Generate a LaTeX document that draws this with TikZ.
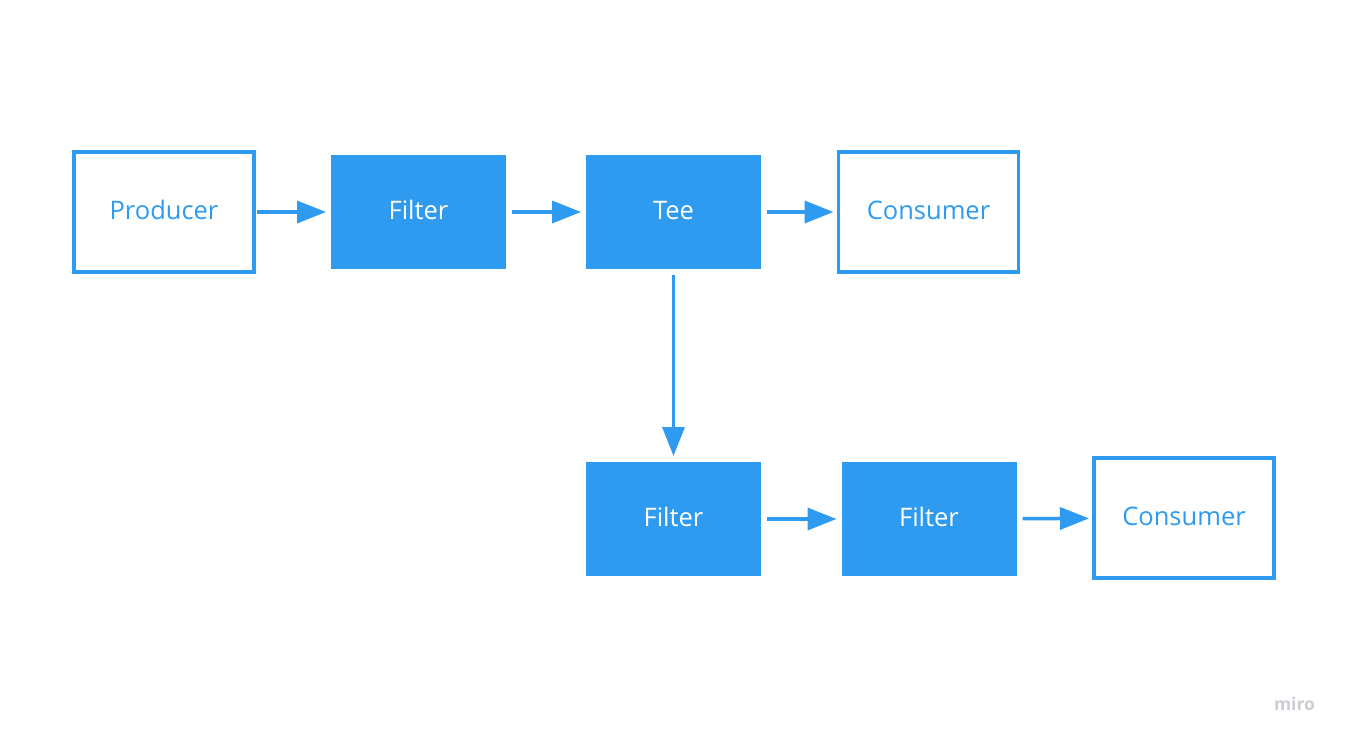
\documentclass[tikz,border=0pt]{standalone}
\usepackage{fontspec}
\setmainfont{Open Sans}
\usetikzlibrary{arrows.meta}
\definecolor{miroblue}{HTML}{2E9BF0}
\definecolor{logogray}{HTML}{CDCED3}
\begin{document}
\begin{tikzpicture}[x=1pt,y=-1pt,
  every node/.style={inner sep=0pt,outer sep=0pt},
  boxtext/.style={font=\fontsize{25.5}{30}\selectfont,text height=18.4pt,text depth=3.2pt},
  endpoint/.style={boxtext,draw=miroblue,line width=3.5pt,fill=white,text=miroblue,
    minimum width=180pt,minimum height=120pt},
  stage/.style={boxtext,fill=miroblue,text=white,minimum width=175pt,minimum height=114pt},
  flow/.style={draw=miroblue,line width=3.5pt,
    -{Triangle[length=29pt,width=22pt]},shorten <=3pt,shorten >=5pt}]
  \useasboundingbox (0,0) rectangle (1347,742);

  % upper row
  \node[endpoint] (prod) at (164,212) {Producer};
  \node[stage] (f1) at (418.5,212) {Filter};
  \node[stage] (tee) at (673.5,212) {Tee};
  \node[endpoint] (c1) at (928.5,212) {Consumer};

  % lower branch
  \node[stage] (f2) at (673.5,519) {Filter};
  \node[stage] (f3) at (929,519) {Filter};
  \node[endpoint] (c2) at (1184,518) {Consumer};

  % connectors
  \draw[flow] (prod) -- (f1);
  \draw[flow,shorten <=6pt] (f1) -- (tee);
  \draw[flow,shorten <=6pt] (tee) -- (c1);
  \draw[flow,shorten <=6pt,shorten >=6pt] (tee) -- (f2);
  \draw[flow,shorten <=6pt] (f2) -- (f3);
  \draw[flow,shorten <=6pt] (f3) -- (c2);

  % watermark
  \node[text=logogray,font=\fontsize{17.5}{20}\selectfont\bfseries] (logo) at (1294.5,704) {miro};
\end{tikzpicture}
\end{document}
